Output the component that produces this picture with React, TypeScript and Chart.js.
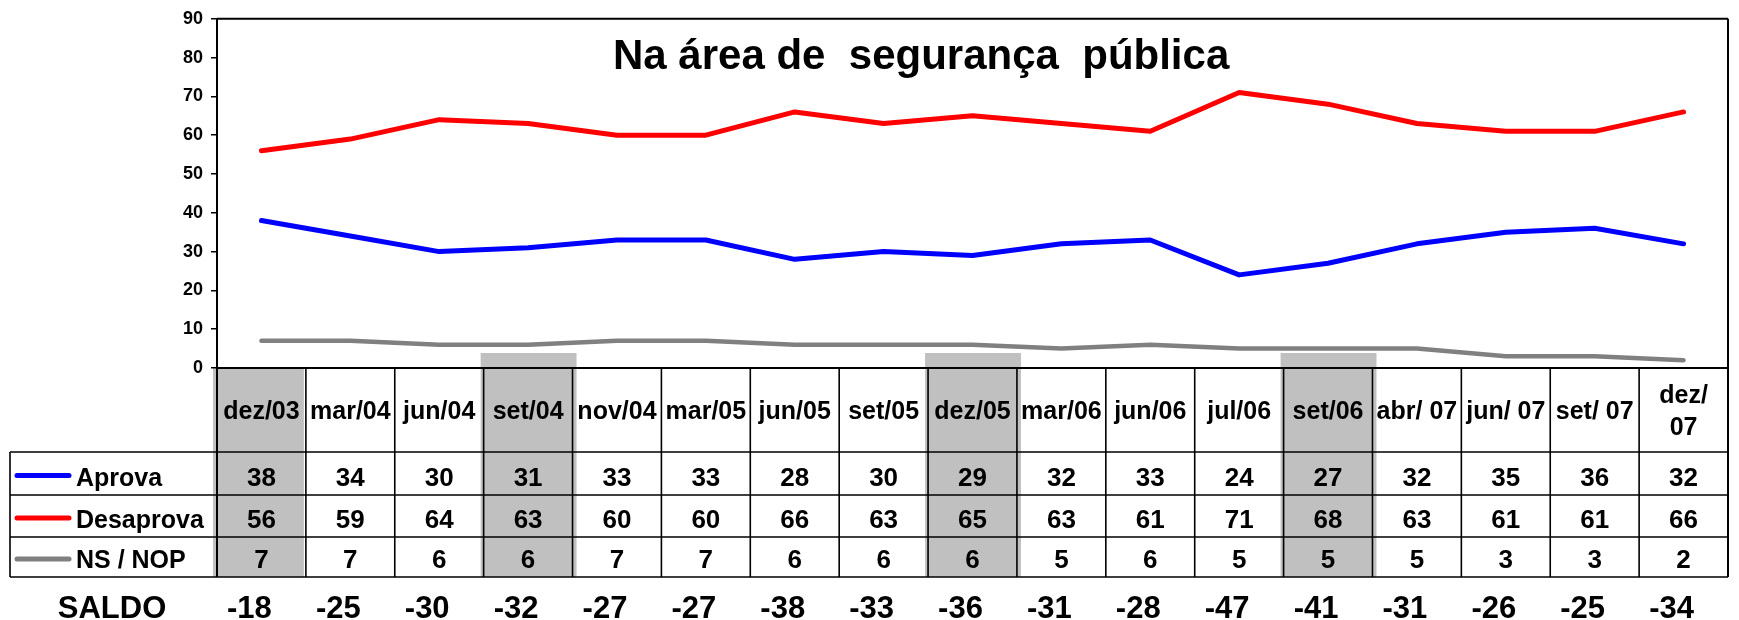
import React, { useEffect, useRef } from "react";
import { Chart, registerables } from "chart.js";

Chart.register(...registerables);

// ---- data ----
const categories = [
  "dez/03", "mar/04", "jun/04", "set/04", "nov/04", "mar/05", "jun/05", "set/05",
  "dez/05", "mar/06", "jun/06", "jul/06", "set/06", "abr/ 07", "jun/ 07", "set/ 07", "dez/ 07",
];
const aprova = [38, 34, 30, 31, 33, 33, 28, 30, 29, 32, 33, 24, 27, 32, 35, 36, 32];
const desaprova = [56, 59, 64, 63, 60, 60, 66, 63, 65, 63, 61, 71, 68, 63, 61, 61, 66];
const nsNop = [7, 7, 6, 6, 7, 7, 6, 6, 6, 5, 6, 5, 5, 5, 3, 3, 2];
const saldo = [-18, -25, -30, -32, -27, -27, -38, -33, -36, -31, -28, -47, -41, -31, -26, -25, -34];
const highlightedColumns = [0, 3, 8, 12];
const seriesNames = ["Aprova", "Desaprova", "NS / NOP"];
const seriesColors = ["#0000ff", "#ff0000", "#808080"];
const saldoLabel = "SALDO";
const titleText = "Na área de  segurança  pública";
const yMin = 0;
const yMax = 90;
const yStep = 10;

const FONT = "'Liberation Sans', Arial, Helvetica, sans-serif";

// ---- layout (pixels) ----
const TABLE_LEFT = 10;
const HEADER_H = 84;
const ROW_H = [43, 42, 40];

const tablePlugin = {
  id: "tablePlugin",
  beforeDraw(chart: any) {
    const { ctx, chartArea } = chart;
    const xs = chart.scales.x;
    const colW = xs.width / categories.length;
    const tableBottom = chartArea.bottom + HEADER_H + ROW_H.reduce((a, b) => a + b, 0);
    ctx.save();
    ctx.fillStyle = "#c0c0c0";
    highlightedColumns.forEach((idx, k) => {
      const cx = xs.getPixelForValue(idx);
      const l = cx - colW / 2;
      if (k === 0) {
        ctx.fillRect(l - 4, chartArea.bottom, colW + 2, tableBottom - chartArea.bottom);
      } else {
        ctx.fillRect(l - 3, chartArea.bottom - 15, colW + 7, tableBottom - chartArea.bottom + 15);
      }
    });
    ctx.restore();
  },
  afterDraw(chart: any) {
    const { ctx, chartArea } = chart;
    const xs = chart.scales.x;
    const n = categories.length;
    const colW = xs.width / n;
    const headerBottom = chartArea.bottom + HEADER_H;
    const rowBottoms: number[] = [];
    let acc = headerBottom;
    ROW_H.forEach((h) => {
      acc += h;
      rowBottoms.push(acc);
    });
    const tableBottom = rowBottoms[rowBottoms.length - 1];

    ctx.save();
    ctx.strokeStyle = "#000";
    ctx.lineWidth = 2;
    ctx.beginPath();
    ctx.moveTo(chartArea.left, chartArea.top);
    ctx.lineTo(chartArea.right, chartArea.top);
    ctx.moveTo(chartArea.right, chartArea.top);
    ctx.lineTo(chartArea.right, tableBottom);
    ctx.moveTo(chartArea.left, chartArea.bottom);
    ctx.lineTo(chartArea.left, tableBottom);
    ctx.stroke();

    ctx.lineWidth = 1.6;
    ctx.beginPath();
    [headerBottom, ...rowBottoms].forEach((y) => {
      ctx.moveTo(TABLE_LEFT, y);
      ctx.lineTo(chartArea.right, y);
    });
    ctx.moveTo(TABLE_LEFT, headerBottom);
    ctx.lineTo(TABLE_LEFT, tableBottom);
    for (let i = 1; i < n; i++) {
      const x = xs.getPixelForValue(i) - colW / 2;
      ctx.moveTo(x, chartArea.bottom);
      ctx.lineTo(x, tableBottom);
    }
    ctx.stroke();

    ctx.fillStyle = "#000";
    ctx.textAlign = "center";
    ctx.textBaseline = "alphabetic";
    ctx.font = `bold 25px ${FONT}`;
    const headerMid = chartArea.bottom + HEADER_H / 2;
    categories.forEach((lab, i) => {
      const cx = xs.getPixelForValue(i);
      if (ctx.measureText(lab).width > colW - 6 && lab.includes(" ")) {
        const parts = lab.split(" ");
        ctx.fillText(parts[0], cx, headerMid - 7.5);
        ctx.fillText(parts.slice(1).join(" "), cx, headerMid + 25);
      } else {
        ctx.fillText(lab, cx, headerMid + 9);
      }
    });

    const rows = [aprova, desaprova, nsNop];
    rows.forEach((vals, r) => {
      const yb = rowBottoms[r] - 9;
      ctx.font = `bold 26px ${FONT}`;
      ctx.textAlign = "center";
      vals.forEach((v, i) => {
        ctx.fillText(String(v), xs.getPixelForValue(i), yb);
      });
      const yMid = rowBottoms[r] - ROW_H[r] / 2 + 2;
      ctx.strokeStyle = seriesColors[r];
      ctx.lineWidth = 5;
      ctx.lineCap = "round";
      ctx.beginPath();
      ctx.moveTo(TABLE_LEFT + 7, yMid);
      ctx.lineTo(TABLE_LEFT + 59, yMid);
      ctx.stroke();
      ctx.font = `bold 25px ${FONT}`;
      ctx.textAlign = "left";
      ctx.fillText(seriesNames[r], TABLE_LEFT + 66, yb);
    });

    ctx.font = `bold 31px ${FONT}`;
    ctx.textAlign = "center";
    const saldoY = tableBottom + 41;
    ctx.fillText(saldoLabel, 112, saldoY);
    saldo.forEach((v, i) => {
      ctx.fillText(String(v), xs.getPixelForValue(i) - 12, saldoY);
    });

    ctx.font = `bold 42px ${FONT}`;
    ctx.textAlign = "center";
    ctx.fillText(titleText, chartArea.left + chartArea.width * 0.466, chartArea.top + 50);
    ctx.restore();
  },
};

export default function App() {
  const canvasRef = useRef<HTMLCanvasElement | null>(null);

  useEffect(() => {
    if (!canvasRef.current) return;
    Chart.defaults.font.family = FONT;
    Chart.defaults.font.size = 18;
    Chart.defaults.font.weight = "bold";
    Chart.defaults.color = "#000";
    const tickFont = { family: FONT, size: 18, weight: "bold" as const };
    const chart = new Chart(canvasRef.current, {
      type: "line",
      data: {
        labels: categories,
        datasets: [
          { label: seriesNames[0], data: aprova },
          { label: seriesNames[1], data: desaprova },
          { label: seriesNames[2], data: nsNop },
        ].map((d, i) => ({
          ...d,
          borderColor: seriesColors[i],
          backgroundColor: seriesColors[i],
          borderWidth: i === 2 ? 4.5 : 5,
          pointRadius: 0,
          tension: 0,
          fill: false,
          borderCapStyle: "round" as const,
          borderJoinStyle: "round" as const,
        })),
      },
      options: {
        responsive: true,
        maintainAspectRatio: false,
        animation: false,
        font: tickFont,
        layout: { padding: { left: 0, right: 11, top: 15, bottom: 0 } },
        plugins: {
          legend: { display: false },
          tooltip: { enabled: false },
          title: { display: false },
        },
        scales: {
          x: {
            offset: true,
            grid: { display: false },
            ticks: { display: false },
            border: { display: true, color: "#000", width: 2 },
            afterFit: (scale: any) => {
              scale.height = 252;
            },
          },
          y: {
            min: yMin,
            max: yMax,
            ticks: {
              stepSize: yStep,
              color: "#000",
              padding: 8,
              font: () => tickFont,
            },
            grid: {
              display: true,
              drawOnChartArea: false,
              drawTicks: true,
              tickLength: 6,
              color: "#000",
              lineWidth: 1.5,
            },
            border: { display: true, color: "#000", width: 2 },
            afterFit: (scale: any) => {
              scale.width = 217;
            },
          },
        },
      },
      plugins: [tablePlugin],
    });
    return () => chart.destroy();
  }, []);

  return (
    <div style={{ position: "absolute", left: 0, top: 0, width: 1739, height: 620, background: "#fff" }}>
      <canvas ref={canvasRef} />
    </div>
  );
}
